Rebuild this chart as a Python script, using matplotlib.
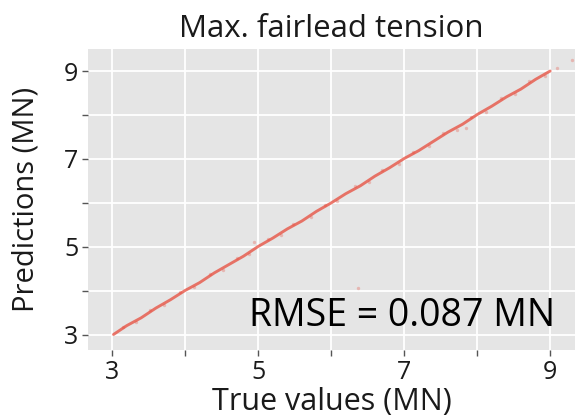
import matplotlib.pyplot as plt
import numpy as np

# predicted vs. true max fairlead tension (MN)
true_vals = [3.02, 3.20, 3.40, 3.60, 3.80, 4.00, 4.20, 4.40, 4.60, 4.80,
             5.00, 5.20, 5.40, 5.60, 5.80, 6.00, 6.20, 6.40, 6.60, 6.80,
             7.00, 7.20, 7.40, 7.60, 7.80, 8.00, 8.20, 8.40, 8.60, 8.80, 9.00]
pred_vals = [3.01, 3.21, 3.39, 3.61, 3.80, 4.01, 4.19, 4.41, 4.60, 4.79,
             5.01, 5.20, 5.41, 5.59, 5.81, 6.00, 6.21, 6.39, 6.61, 6.80,
             7.01, 7.19, 7.40, 7.61, 7.79, 8.01, 8.20, 8.41, 8.59, 8.81, 9.00]

# scattered samples around the diagonal
spread_true = [3.15, 3.33, 3.52, 3.71, 3.93, 4.12, 4.34, 4.52, 4.71, 4.88,
               5.13, 5.31, 5.48, 5.72, 5.91, 6.08, 6.33, 6.52, 6.70, 6.93,
               7.12, 7.34, 7.53, 7.72, 7.91, 8.12, 8.33, 8.52, 8.71, 8.93,
               9.10, 9.30, 6.37, 4.95, 7.85]
spread_pred = [3.19, 3.29, 3.57, 3.67, 3.97, 4.08, 4.39, 4.48, 4.76, 4.84,
               5.18, 5.27, 5.53, 5.67, 5.96, 6.04, 6.38, 6.47, 6.75, 6.88,
               7.17, 7.29, 7.58, 7.67, 7.96, 8.07, 8.39, 8.47, 8.77, 8.88,
               9.06, 9.25, 4.07, 5.12, 7.70]

rmse_text = 'RMSE = 0.087 MN'
ticks = [3, 4, 5, 6, 7, 8, 9]
tick_labels = ['3', '', '5', '', '7', '', '9']

plt.rcParams['font.family'] = ['Open Sans', 'DejaVu Sans']

fig = plt.figure(figsize=(5.75, 4.19), dpi=100)
ax = fig.add_axes([0.153, 0.165, 0.847, 0.718])
ax.set_facecolor('#E5E5E5')
for s in ax.spines.values():
    s.set_visible(False)

ax.set_xlim(2.67, 9.34)
ax.set_ylim(2.66, 9.5)
ax.set_xticks(ticks)
ax.set_xticklabels(tick_labels)
ax.set_yticks(ticks)
ax.set_yticklabels(tick_labels)
ax.grid(True, color='white', linewidth=1.3)
ax.set_axisbelow(True)
ax.tick_params(length=4, width=1, color='#555555', labelsize=18, pad=3,
               labelcolor='#1a1a1a')

ax.plot(true_vals, pred_vals, color='#E74C3C', linewidth=2.1, alpha=0.75,
        solid_capstyle='round')
ax.scatter(spread_true, spread_pred, s=6, color='#E74C3C', alpha=0.3,
           linewidths=0)

ax.set_title('Max. fairlead tension', fontsize=22.5, pad=9, color='#1a1a1a')
ax.set_xlabel('True values (MN)', fontsize=22, color='#1a1a1a')
ax.set_ylabel('Predictions (MN)', fontsize=21, color='#1a1a1a')
ax.xaxis.set_label_coords(0.5, -0.125)
ax.yaxis.set_label_coords(-0.098, 0.5)
ax.text(0.96, 0.113, rmse_text, transform=ax.transAxes, ha='right', va='center',
        fontsize=27, color='black')

fig.savefig('out.png', dpi=100)
